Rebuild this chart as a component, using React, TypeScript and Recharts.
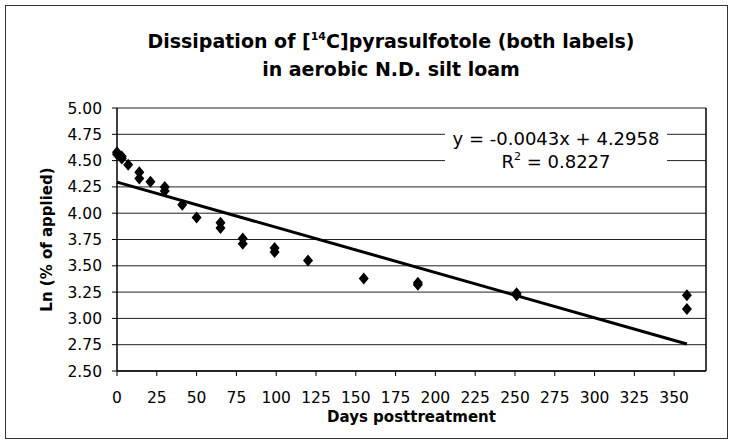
import {
  ScatterChart,
  Scatter,
  XAxis,
  YAxis,
  CartesianGrid,
  ReferenceLine,
  Label,
} from 'recharts'

// measured points, both labels (days after treatment, ln of % applied)
const days = [0, 0, 3, 3, 7, 14, 14, 21, 30, 30, 41, 50, 65, 65, 79, 79, 99, 99, 120, 155, 189, 189, 251, 251, 358, 358]
const lnApplied = [4.58, 4.56, 4.54, 4.52, 4.46, 4.39, 4.33, 4.30, 4.25, 4.21, 4.08, 3.96, 3.91, 3.86, 3.76, 3.71, 3.67, 3.63, 3.55, 3.38, 3.34, 3.32, 3.24, 3.22, 3.22, 3.09]

// linear trendline from the spreadsheet
const slope = -0.0043
const intercept = 4.2958
const rSquared = 0.8227
const trendDays = [0, 358]

const xTicks = [0, 25, 50, 75, 100, 125, 150, 175, 200, 225, 250, 275, 300, 325, 350]
const yTicks = [2.5, 2.75, 3, 3.25, 3.5, 3.75, 4, 4.25, 4.5, 4.75, 5]

const points = days.map((d, i) => ({ day: d, ln: lnApplied[i] }))
const trend = trendDays.map(d => ({ day: d, ln: slope * d + intercept }))

const FONT = '"DejaVu Sans", "Liberation Sans", Arial, sans-serif'

function Diamond({ cx, cy }: { cx?: number; cy?: number }) {
  if (cx == null || cy == null) return <g />
  return <polygon points={`${cx},${cy - 6} ${cx + 5},${cy} ${cx},${cy + 6} ${cx - 5},${cy}`} fill="#000" />
}

function YTitle({ viewBox }: { viewBox?: { x: number; y: number; width: number; height: number } }) {
  if (!viewBox) return null
  const cx = viewBox.x - 10
  const cy = viewBox.y + viewBox.height / 2
  return (
    <text
      x={cx}
      y={cy}
      transform={`rotate(-90, ${cx}, ${cy})`}
      textAnchor="middle"
      dominantBaseline="central"
      fontFamily={FONT}
      fontWeight="bold"
      fontSize={15}
      fill="#000"
    >
      Ln (% of applied)
    </text>
  )
}

const supStyle = { fontSize: 11, position: 'relative' as const, top: -8 }

export default function App() {
  return (
    <div style={{ position: 'absolute', left: 0, top: 0, width: 733, height: 444, background: '#fff', fontFamily: FONT }}>
      <div style={{ position: 'absolute', left: 5, top: 5, width: 721, height: 432, border: '1px solid #333' }} />
      <div
        style={{
          position: 'absolute',
          left: 0,
          top: 29,
          width: 782,
          textAlign: 'center',
          fontWeight: 'bold',
          fontSize: 19,
          lineHeight: '24px',
          color: '#000',
        }}
      >
        Dissipation of [<span style={supStyle}>14</span>C]pyrasulfotole (both labels)
        <br />
        in aerobic N.D. silt loam
      </div>
      <ScatterChart width={733} height={444} margin={{ top: 108, right: 27, bottom: 23, left: 57 }} style={{ position: 'absolute', left: 0, top: 0 }}>
        <CartesianGrid vertical={false} stroke="#222" strokeWidth={1} />
        <XAxis
          type="number"
          dataKey="day"
          domain={[0, 370]}
          ticks={xTicks}
          interval={0}
          height={50}
          tickSize={5}
          tickMargin={16}
          axisLine={{ stroke: '#000', strokeWidth: 1.5 }}
          tickLine={{ stroke: '#000' }}
          tick={{ fill: '#000', fontSize: 15.5, fontFamily: FONT }}
        >
          <Label
            value="Days posttreatment"
            position="insideBottom"
            offset={-1}
            style={{ fontFamily: FONT, fontWeight: 'bold', fontSize: 15, fill: '#000' }}
          />
        </XAxis>
        <YAxis
          type="number"
          dataKey="ln"
          domain={[2.5, 5]}
          ticks={yTicks}
          interval={0}
          width={60}
          tickSize={5}
          tickMargin={10}
          tickFormatter={(v: number) => v.toFixed(2)}
          axisLine={{ stroke: '#000', strokeWidth: 1.5 }}
          tickLine={{ stroke: '#000' }}
          tick={{ fill: '#000', fontSize: 15.5, fontFamily: FONT }}
        >
          <Label content={<YTitle />} />
        </YAxis>
        <ReferenceLine x={370} stroke="#000" strokeWidth={1.5} />
        <Scatter data={trend} line={{ stroke: '#000', strokeWidth: 3 }} shape={() => <g />} isAnimationActive={false} />
        <Scatter data={points} shape={<Diamond />} isAnimationActive={false} />
      </ScatterChart>
      <div
        style={{
          position: 'absolute',
          left: 445,
          top: 127,
          width: 222,
          height: 46,
          background: '#fff',
          textAlign: 'center',
          fontSize: 18,
          lineHeight: '23px',
          color: '#000',
        }}
      >
        y = {slope.toFixed(4)}x + {intercept.toFixed(4)}
        <br />
        R<span style={supStyle}>2</span> = {rSquared.toFixed(4)}
      </div>
    </div>
  )
}
